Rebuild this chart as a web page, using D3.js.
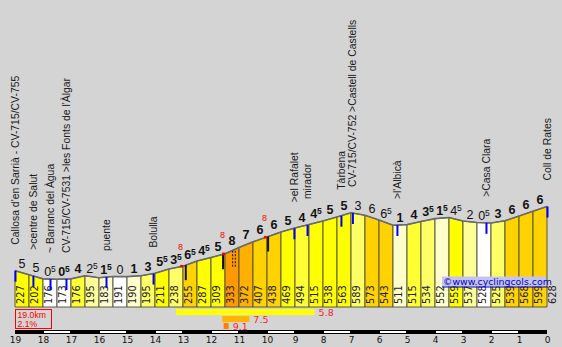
<!DOCTYPE html>
<html>
<head>
<meta charset="utf-8">
<script src="https://cdn.jsdelivr.net/npm/d3@7"></script>
<style>
  html, body { margin: 0; padding: 0; background: #d4d4d4; }
  svg { display: block; }
</style>
</head>
<body>
<svg id="chart" width="562" height="347"></svg>
<script>
// Altitude (m) every 0.5 km, from km 19 (start) down to km 0 (summit)
const altitudes = [227, 202, 176, 173, 176, 195, 183, 191, 190, 195, 211, 238, 255, 287, 309, 333, 372, 407, 438,
                   469, 494, 515, 538, 563, 589, 573, 543, 511, 515, 534, 552, 559, 537, 528, 525, 539, 568, 599, 628];
// Gradient (%) shown above each 0.5 km segment
const gradients = [5, 5, 0.5, 0.5, 4, 2.5, 1.5, 0, 1, 3, 5.5, 3.5, 6.5, 4.5, 5, 8, 7, 6, 6, 5, 4, 4.5, 5, 5, 3,
                   6, 6.5, 1, 4, 3.5, 1.5, 4.5, 2, 0.5, 3, 6, 6, 6];
// Kilometre ticks (distance to the summit)
const kmTicks = [19, 18, 17, 16, 15, 14, 13, 12, 11, 10, 9, 8, 7, 6, 5, 4, 3, 2, 1, 0];

// Places along the road
const placeKm = [19, 18.36, 17.75, 17.18, 15.75, 14.07, 9.04, 8.57, 7.36, 6.95, 5.36, 2.18, 0];
const placeNames = [
  "Callosa d'en Sarrià - CV-715/CV-755",
  ">centre de Salut",
  "~ Barranc del Àgua",
  "CV-715/CV-7531 >les Fonts de l'Àlgar",
  "puente",
  "Bolulla",
  ">el Rafalet",
  "mirador",
  "Tàrbena",
  "CV-715/CV-752 >Castell de Castells",
  ">l'Albicà",
  ">Casa Clara",
  "Coll de Rates"
];

// Steepest 100 m spots
const steepKm = [13.05, 11.55, 10.05];
const steepValues = [8, 8, 8];
// Black road markers (solid) and a dashed one
const markerKm = [12.9, 11.57, 9.96];
const dashedMarkerKm = [11.18];

// Steepest stretches: start km, end km, average gradient
const stretchFrom = [13.25, 11.6, 11.55];
const stretchTo = [8.3, 10.63, 11.37];
const stretchGrad = [5.8, 7.5, 9.1];
const stretchColors = ["#ffff00", "#ffb400", "#ff8000"];

const totalKm = 19.0;
const averageGrad = 2.1;

const svg = d3.select("#chart");

const x = d3.scaleLinear().domain([19, 0]).range([15, 547]);
const y = d3.scaleLinear().domain([0, 628]).range([307, 206.5]);
const segKm = altitudes.map((_, i) => 19 - i * 0.5);
const altAt = d3.scaleLinear().domain(segKm).range(altitudes);
const lineY = km => y(altAt(km));

const color = d3.scaleThreshold()
  .domain([1, 2, 3, 4, 4.5, 6, 7, 8])
  .range(["#ffffff", "#ffffcc", "#ffff99", "#ffff66", "#ffff33", "#ffff00", "#ffd200", "#ffb000", "#ff9900"]);

// Profile segments
const segs = gradients.map((g, i) => ({
  k0: segKm[i], k1: segKm[i + 1], a0: altitudes[i], a1: altitudes[i + 1], g
}));

svg.append("g").selectAll("path").data(segs).join("path")
  .attr("d", d => `M${x(d.k0)},${y(d.a0)}L${x(d.k1)},${y(d.a1)}L${x(d.k1)},${y(0)}L${x(d.k0)},${y(0)}Z`)
  .attr("fill", d => color(d.g))
  .attr("stroke", "#4a4a3a")
  .attr("stroke-width", 0.9);

// Top line of the profile
svg.append("path")
  .attr("d", d3.line().x((d, i) => x(segKm[i])).y(d => y(d))(altitudes))
  .attr("fill", "none")
  .attr("stroke", "#6a6a6a")
  .attr("stroke-width", 1.6);

// Altitude labels inside the bars
svg.append("g").selectAll("text").data(altitudes).join("text")
  .attr("transform", (d, i) => `translate(${x(segKm[i]) + 8.5},304) rotate(-90)`)
  .attr("font-family", "DejaVu Sans, sans-serif")
  .attr("font-size", 9.8)
  .attr("fill", "#222")
  .text(d => d);

// Gradient labels above each segment
const gl = svg.append("g").selectAll("text").data(segs).join("text")
  .attr("x", d => (x(d.k0) + x(d.k1)) / 2)
  .attr("y", d => Math.min(y(d.a0), y(d.a1)) - 2.5)
  .attr("text-anchor", "middle")
  .attr("font-family", "Liberation Sans, Arial, sans-serif")
  .attr("font-size", 12.5)
  .attr("font-weight", d => d.a1 > d.a0 ? "bold" : "normal")
  .attr("fill", "#111");
gl.append("tspan").text(d => Math.floor(d.g));
gl.filter(d => d.g % 1 !== 0).append("tspan")
  .attr("font-size", 8.5)
  .attr("dy", -4)
  .text("5");

// Black road markers
svg.append("g").selectAll("line").data(markerKm).join("line")
  .attr("x1", d => x(d)).attr("x2", d => x(d))
  .attr("y1", d => lineY(d)).attr("y2", d => lineY(d) + 15)
  .attr("stroke", "#111").attr("stroke-width", 2);
dashedMarkerKm.forEach(k => {
  [-1.3, 1.3].forEach(off => {
    svg.append("line")
      .attr("x1", x(k) + off).attr("x2", x(k) + off)
      .attr("y1", lineY(k) + 1).attr("y2", lineY(k) + 17)
      .attr("stroke", "#111").attr("stroke-width", 1)
      .attr("stroke-dasharray", "2,1.5");
  });
});

// Steepest spots: red mark on the road and value above
svg.append("g").selectAll("rect").data(steepKm).join("rect")
  .attr("x", d => x(d) - 1.5).attr("y", d => lineY(d) - 1.5)
  .attr("width", 3).attr("height", 2.5)
  .attr("fill", "#ff0000");
svg.append("g").selectAll("text").data(steepKm).join("text")
  .attr("x", d => x(d) - 1).attr("y", d => lineY(d) - 16)
  .attr("text-anchor", "middle")
  .attr("font-family", "Liberation Sans, Arial, sans-serif")
  .attr("font-size", 9)
  .attr("fill", "#ff0000")
  .text((d, i) => steepValues[i]);

// Place ticks and names
svg.append("g").selectAll("line").data(placeKm).join("line")
  .attr("x1", d => x(d) + 0.5).attr("x2", d => x(d) + 0.5)
  .attr("y1", d => lineY(d)).attr("y2", d => lineY(d) + 11)
  .attr("stroke", "#0000ff").attr("stroke-width", 2);
svg.append("g").selectAll("text").data(placeKm).join("text")
  .attr("transform", d => `translate(${x(d) + 4},${lineY(d) - 26}) rotate(-90)`)
  .attr("font-family", "Liberation Sans, Arial, sans-serif")
  .attr("font-size", 10.4)
  .attr("fill", "#1a1a1a")
  .text((d, i) => placeNames[i]);

// Steepest stretches below the profile
const stretches = stretchGrad.map((g, i) => ({ from: stretchFrom[i], to: stretchTo[i], g, c: stretchColors[i], row: i }));
svg.append("g").selectAll("rect").data(stretches).join("rect")
  .attr("x", d => x(d.from)).attr("width", d => x(d.to) - x(d.from))
  .attr("y", d => 309 + d.row * 7).attr("height", 6)
  .attr("fill", d => d.c);
svg.append("g").selectAll("text").data(stretches).join("text")
  .attr("x", d => x(d.to) + 4).attr("y", d => 315.5 + d.row * 7)
  .attr("font-family", "DejaVu Sans, sans-serif")
  .attr("font-size", 9.5)
  .attr("fill", "#ff2020")
  .text(d => d.g.toFixed(1));

// Total distance and average gradient box
svg.append("rect")
  .attr("x", 15.5).attr("y", 309.5).attr("width", 36).attr("height", 19)
  .attr("fill", "none").attr("stroke", "#ff0000").attr("stroke-width", 1);
svg.append("text").attr("x", 17.5).attr("y", 317.5)
  .attr("font-family", "Liberation Sans, Arial, sans-serif").attr("font-size", 8.7)
  .attr("fill", "#ff0000").text(totalKm.toFixed(1) + "km");
svg.append("text").attr("x", 17.5).attr("y", 327)
  .attr("font-family", "Liberation Sans, Arial, sans-serif").attr("font-size", 8.7)
  .attr("fill", "#ff0000").text(averageGrad.toFixed(1) + "%");

// Kilometre scale bar
svg.append("rect").attr("x", x(19)).attr("y", 330).attr("width", x(0) - x(19)).attr("height", 4).attr("fill", "#000");
svg.append("g").selectAll("rect").data(kmTicks.filter(k => k % 2 === 0 && k > 0 && k < 19)).join("rect")
  .attr("x", d => x(d) + 1).attr("width", d => x(d - 1) - x(d) - 2)
  .attr("y", 331).attr("height", 2)
  .attr("fill", "#fff");

// Kilometre axis labels
const axis = d3.axisBottom(x).tickValues(kmTicks).tickSize(0).tickPadding(3).tickFormat(d3.format("d"));
const ax = svg.append("g").attr("transform", "translate(0,334)").call(axis);
ax.select(".domain").remove();
ax.selectAll("text")
  .attr("font-family", "DejaVu Sans, sans-serif")
  .attr("font-size", 9)
  .attr("fill", "#111");

// Site credit
svg.append("rect").attr("x", 442).attr("y", 276.5).attr("width", 104).attr("height", 10).attr("fill", "#c4c4f0");
svg.append("text").attr("x", 443).attr("y", 285)
  .attr("font-family", "DejaVu Sans, sans-serif").attr("font-size", 9.4)
  .attr("fill", "#0000cc")
  .text("©www.cyclingcols.com");
svg.append("line").attr("x1", 442).attr("x2", 548).attr("y1", 287).attr("y2", 287)
  .attr("stroke", "#0000cc").attr("stroke-width", 1);
</script>
</body>
</html>
